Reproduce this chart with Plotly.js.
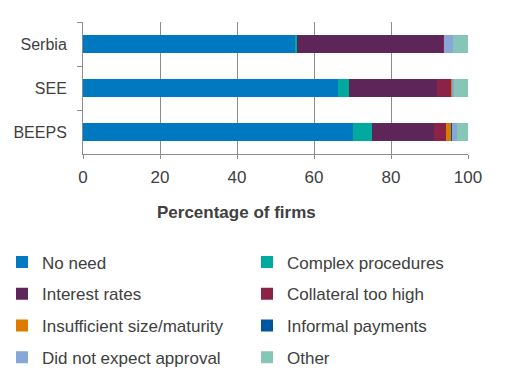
<!DOCTYPE html>
<html>
<head>
<meta charset="utf-8">
<script src="https://cdn.plot.ly/plotly-3.0.1.min.js"></script>
<style>
  html, body { margin: 0; padding: 0; background: #fff; }
  #chart { width: 508px; height: 384px; }
</style>
</head>
<body>
<div id="chart"></div>
<script>
// Data
var categories = ['Serbia', 'SEE', 'BEEPS'];
var seriesNames = ['No need', 'Complex procedures', 'Interest rates', 'Collateral too high',
                   'Insufficient size/maturity', 'Informal payments', 'Did not expect approval', 'Other'];
var noNeed       = [55.1, 66.2, 70.1];
var complexProc  = [0.5, 2.8, 4.9];
var interest     = [37.8, 23.0, 16.1];
var collateral   = [0.4, 3.5, 3.1];
var insufficient = [0.0, 0.3, 1.3];
var informal     = [0.0, 0.1, 0.3];
var noApproval   = [2.4, 0.4, 1.3];
var other        = [3.8, 3.7, 2.9];
var xTickVals = [0, 20, 40, 60, 80, 100];
var xTitle = 'Percentage of firms';

var seriesValues = [noNeed, complexProc, interest, collateral, insufficient, informal, noApproval, other];
var colors = ['#0079C1', '#00AA9E', '#5E2558', '#8B2346', '#DD7A00', '#00559F', '#86A7D7', '#85C6B6'];
var legendFor = ['legend', 'legend2', 'legend', 'legend2', 'legend', 'legend2', 'legend', 'legend2'];

var font = 'Liberation Sans, Arial, sans-serif';
var textColor = '#404040';
var axisGrey = '#8c8c8c';

var traces = seriesNames.map(function (name, i) {
  return {
    type: 'bar',
    orientation: 'h',
    name: name,
    y: categories,
    x: seriesValues[i],
    marker: { color: colors[i], line: { width: 0 } },
    width: 0.41,
    legend: legendFor[i],
    legendgroup: 'g' + i,
    hoverinfo: 'skip'
  };
});

var legendCommon = {
  orientation: 'v',
  traceorder: 'grouped',
  tracegroupgap: 6.6,
  font: { family: font, size: 17, color: textColor },
  xref: 'container', yref: 'container',
  xanchor: 'left', yanchor: 'top',
  bgcolor: 'rgba(0,0,0,0)',
  borderwidth: 0
};

var layout = {
  width: 508,
  height: 384,
  margin: { l: 82.5, r: 39.7, t: 22.3, b: 229.7, pad: 0, autoexpand: false },
  paper_bgcolor: '#ffffff',
  plot_bgcolor: '#ffffff',
  font: { family: font, size: 17, color: textColor },
  barmode: 'stack',
  bargap: 0.59,
  showlegend: true,
  hovermode: false,
  legend: Object.assign({}, legendCommon, { x: 2 / 508, y: 1 - 244.5 / 384 }),
  legend2: Object.assign({}, legendCommon, { x: 247 / 508, y: 1 - 244.5 / 384 }),
  xaxis: {
    range: [0, 100],
    tickvals: xTickVals,
    ticktext: xTickVals.map(String),
    showgrid: true,
    gridcolor: axisGrey,
    gridwidth: 1,
    zeroline: false,
    showline: true,
    linecolor: axisGrey,
    linewidth: 1,
    ticks: 'outside',
    ticklen: 4,
    tickcolor: axisGrey,
    tickfont: { family: font, size: 17, color: textColor },
    ticklabelstandoff: 4,
    automargin: false,
    fixedrange: true
  },
  yaxis: {
    type: 'category',
    categoryorder: 'array',
    categoryarray: categories,
    autorange: 'reversed',
    showgrid: false,
    zeroline: false,
    showline: true,
    linecolor: axisGrey,
    linewidth: 1,
    ticks: 'outside',
    tickson: 'boundaries',
    ticklen: 5,
    tickcolor: axisGrey,
    tickfont: { family: font, size: 16, color: textColor },
    ticklabelstandoff: 12,
    automargin: false,
    fixedrange: true
  },
  annotations: [{
    text: '<b>' + xTitle + '</b>',
    xref: 'paper', yref: 'paper',
    x: (236 - 82.5) / 385.8,
    y: (154.3 - 213) / 132,
    xanchor: 'center', yanchor: 'middle',
    showarrow: false,
    font: { family: font, size: 17, color: textColor }
  }]
};

Plotly.newPlot('chart', traces, layout, { displayModeBar: false, staticPlot: true });
</script>
</body>
</html>
